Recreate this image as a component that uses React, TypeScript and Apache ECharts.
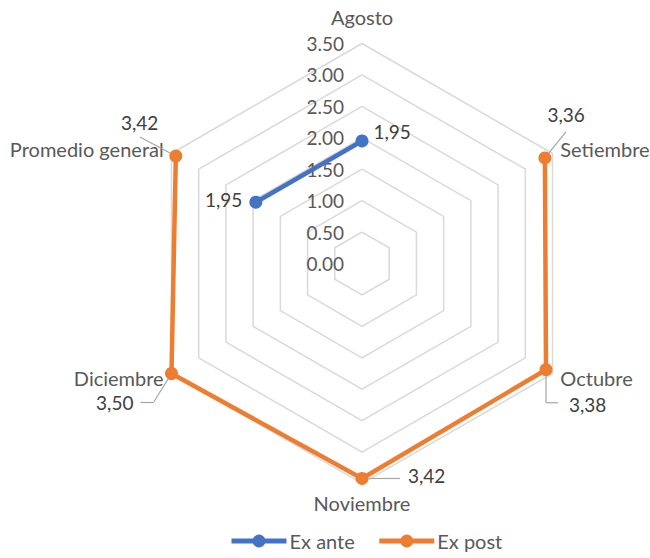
import React, { useEffect, useRef } from "react";
import * as echarts from "echarts";

const categories = ["Agosto", "Setiembre", "Octubre", "Noviembre", "Diciembre", "Promedio general"];
const seriesNames = ["Ex ante", "Ex post"];
const exAnte: (number | null)[] = [1.95, null, null, null, null, 1.95];
const exPost: (number | null)[] = [null, 3.36, 3.38, 3.42, 3.5, 3.42];
const axisMin = 0;
const axisMax = 3.5;
const axisStep = 0.5;

const FONT = "Lato";
const COLORS = ["#4472C4", "#ED7D31"];
const LEADER_COLOR = "#A6A6A6";
const MARKER_SIZE = 13;

// label placement (style only), keyed by category index
const labelPlacement: Record<string, Record<number, any>> = {
  "Ex ante": {
    0: { position: "right", offset: [0, -9] },
    5: { position: "left", offset: [-2, -3] },
  },
  "Ex post": {
    1: { position: "right", offset: [-9, -43] },
    2: { position: "right", offset: [11.5, 35] },
    3: { position: "right", offset: [34.5, -3] },
    4: { position: "left", offset: [-26.5, 29] },
    5: { position: "left", offset: [-6, -34] },
  },
};

// leader-line shapes relative to the marker centre (style only), keyed by category index
const leaderShapes: Record<string, Record<number, number[][]>> = {
  "Ex post": {
    1: [[0, 0], [21, -26]],
    2: [[0, 0], [0, 33], [12, 33]],
    3: [[0, 0], [38, 0]],
    4: [[0, 0], [-18, 29], [-31, 29]],
    5: [[0, 0], [-36, -19]],
  },
};

function cyclicOrder(values: (number | null)[]): number[] {
  const n = values.length;
  let start = 0;
  for (let i = 0; i < n; i++) {
    if (values[i] == null) {
      start = (i + 1) % n;
      let k = 0;
      while (values[start] == null && k < n) {
        start = (start + 1) % n;
        k++;
      }
      break;
    }
  }
  const order: number[] = [];
  for (let i = 0; i < n; i++) order.push((start + i) % n);
  return order;
}

function buildSeries(name: string, values: (number | null)[], color: string) {
  const order = cyclicOrder(values);
  const place = labelPlacement[name] || {};
  const data = order.map((idx) => {
    const v = values[idx];
    const p = place[idx];
    const item: any = { value: [v == null ? "-" : v, idx] };
    if (v != null && p) {
      item.label = { show: true, position: p.position, offset: p.offset, distance: 5 };
    }
    return item;
  });
  return {
    type: "line",
    name,
    coordinateSystem: "polar",
    polarIndex: 0,
    clip: false,
    data,
    connectNulls: false,
    symbol: "circle",
    symbolSize: MARKER_SIZE,
    color,
    lineStyle: { width: 4.5, color },
    itemStyle: { color },
    label: {
      show: false,
      formatter: (p: any) => Number(p.value[0]).toFixed(2).replace(".", ","),
      fontFamily: FONT,
      fontSize: 19,
      color: "#404040",
    },
    z: 3,
  };
}

export default function App() {
  const ref = useRef<HTMLDivElement>(null);
  useEffect(() => {
    document.body.style.margin = "0";
    const chart = echarts.init(ref.current!, undefined, { renderer: "svg" });
    const center = [362, 263.5];
    const radius = 220;
    const nCat = categories.length;
    // data polar gets one extra step of headroom so its clip sector never cuts the lines
    const polarMax = axisMax + axisStep;
    const polarRadius = (radius * polarMax) / axisMax;
    const radarOrder = [categories[0], ...categories.slice(1).reverse()];
    const allSeries = [
      buildSeries(seriesNames[0], exAnte, COLORS[0]),
      buildSeries(seriesNames[1], exPost, COLORS[1]),
    ];
    chart.setOption({
      animation: false,
      backgroundColor: "#FFFFFF",
      textStyle: { fontFamily: FONT },
      legend: {
        data: seriesNames,
        bottom: 2,
        left: 224,
        itemWidth: 55,
        itemHeight: 16,
        itemGap: 22,
        lineStyle: { width: 5 },
        textStyle: { fontFamily: FONT, fontSize: 20, color: "#595959", padding: [0, 0, 0, -2] },
      },
      radar: {
        center,
        radius,
        startAngle: 90,
        splitNumber: Math.round((axisMax - axisMin) / axisStep),
        shape: "polygon",
        indicator: radarOrder.map((n) => ({ name: n, min: axisMin, max: axisMax })),
        axisName: {
          color: "#595959",
          fontFamily: FONT,
          fontSize: 20,
          formatter: (name: string) => (name === categories[0] ? `{top|${name}}` : name),
          rich: {
            top: { color: "#595959", fontFamily: FONT, fontSize: 20, padding: [0, 0, 8, 0] },
          },
        },
        nameGap: 9,
        axisLine: { show: false },
        axisTick: { show: false },
        axisLabel: { show: false },
        splitArea: { show: false },
        splitLine: { lineStyle: { color: "#D9D9D9", width: 1.5 } },
        silent: true,
      },
      polar: [
        { center, radius: polarRadius },
        { center, radius },
      ],
      angleAxis: [
        {
          polarIndex: 0,
          type: "category",
          data: categories,
          startAngle: 90 + 180 / nCat,
          clockwise: true,
          boundaryGap: true,
          axisLine: { show: false },
          axisTick: { show: false },
          axisLabel: { show: false },
          splitLine: { show: false },
        },
        {
          polarIndex: 1,
          type: "value",
          min: 0,
          max: 360,
          startAngle: 90,
          axisLine: { show: false },
          axisTick: { show: false },
          axisLabel: { show: false },
          splitLine: { show: false },
        },
      ],
      radiusAxis: [
        {
          polarIndex: 0,
          type: "value",
          min: axisMin,
          max: polarMax,
          interval: axisStep,
          axisLine: { show: false },
          axisTick: { show: false },
          splitLine: { show: false },
          axisLabel: { show: false },
        },
        {
          polarIndex: 1,
          type: "value",
          min: axisMin,
          max: axisMax,
          interval: axisStep,
          axisLine: { show: false },
          axisTick: { show: false },
          splitLine: { show: false },
          axisLabel: {
            formatter: (v: number) => v.toFixed(2),
            fontFamily: FONT,
            fontSize: 19,
            color: "#595959",
            margin: 18,
          },
          z: 2,
        },
      ],
      series: allSeries,
    });

    // leader lines from each marker edge (marker position obtained through the series' own polar scales)
    const graphics: any[] = [];
    const seriesValues: Record<string, (number | null)[]> = {
      [seriesNames[0]]: exAnte,
      [seriesNames[1]]: exPost,
    };
    seriesNames.forEach((sName, sIdx) => {
      const shapes = leaderShapes[sName];
      if (!shapes) return;
      const vals = seriesValues[sName];
      Object.keys(shapes).forEach((k) => {
        const idx = Number(k);
        const v = vals[idx];
        if (v == null) return;
        const pt = chart.convertToPixel({ seriesIndex: sIdx }, [v, idx]) as number[];
        if (!pt) return;
        const rel = shapes[idx].map((d) => d.slice());
        const dx = rel[1][0] - rel[0][0];
        const dy = rel[1][1] - rel[0][1];
        const len = Math.sqrt(dx * dx + dy * dy) || 1;
        const r0 = MARKER_SIZE / 2;
        rel[0] = [(dx / len) * r0, (dy / len) * r0];
        const abs = rel.map((d) => [pt[0] + d[0], pt[1] + d[1]]);
        for (let s = 0; s < abs.length - 1; s++) {
          graphics.push({
            type: "line",
            silent: true,
            z: 10,
            shape: { x1: abs[s][0], y1: abs[s][1], x2: abs[s + 1][0], y2: abs[s + 1][1] },
            style: { stroke: LEADER_COLOR, lineWidth: 1.2 },
          });
        }
      });
    });
    chart.setOption({ graphic: graphics });
    return () => chart.dispose();
  }, []);
  return (
    <div
      ref={ref}
      style={{ width: 650, height: 558, position: "fixed", left: 0, top: 0 }}
    />
  );
}
